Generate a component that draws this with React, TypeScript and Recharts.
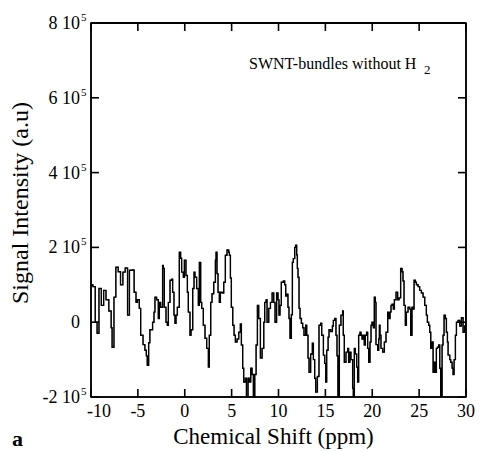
import { LineChart, Line, XAxis, YAxis, ReferenceArea } from 'recharts'

// chemical shift (ppm) and signal
const SHIFT_PPM = [
  -10.0, -9.8, -9.55, -9.35, -9.15, -8.9, -8.65, -8.4, -8.1, -7.85, -7.75, -7.55, -7.35, -7.1, -6.85, -6.6,
  -6.35, -6.1, -5.9, -5.6, -5.4, -5.2, -5.05, -4.85, -4.7, -4.45, -4.25, -4.1, -4.0, -3.85, -3.72, -3.43,
  -3.28, -3.18, -3.0, -2.82, -2.71, -2.57, -2.36, -2.29, -2.18, -2.0, -1.86, -1.75, -1.57, -1.4, -1.29, -1.15,
  -1.04, -0.93, -0.79, -0.58, -0.44, -0.33, -0.15, -0.04, 0.13, 0.28, 0.38, 0.56, 0.67, 0.85, 0.99, 1.09,
  1.27, 1.45, 1.56, 1.7, 1.81, 1.98, 2.16, 2.34, 2.52, 2.62, 2.77, 2.91, 3.09, 3.27, 3.34, 3.44,
  3.55, 3.69, 3.8, 3.98, 4.16, 4.33, 4.51, 4.69, 4.76, 4.87, 4.97, 5.12, 5.26, 5.4, 5.58, 5.76,
  5.93, 6.04, 6.18, 6.29, 6.47, 6.58, 6.75, 6.9, 7.04, 7.18, 7.32, 7.47, 7.61, 7.75, 7.89, 8.07,
  8.25, 8.43, 8.53, 8.68, 8.78, 8.96, 9.14, 9.32, 9.49, 9.63, 9.8, 9.95, 10.05, 10.16, 10.3, 10.52,
  10.66, 10.77, 10.87, 11.01, 11.12, 11.23, 11.37, 11.48, 11.58, 11.73, 11.83, 11.94, 12.01, 12.08, 12.19, 12.3,
  12.44, 12.58, 12.72, 12.9, 13.01, 13.15, 13.26, 13.43, 13.61, 13.72, 13.86, 13.97, 14.15, 14.32, 14.5, 14.61,
  14.79, 14.93, 15.04, 15.14, 15.29, 15.39, 15.57, 15.75, 15.85, 16.0, 16.13, 16.24, 16.34, 16.49, 16.66, 16.84,
  16.91, 17.02, 17.2, 17.38, 17.48, 17.62, 17.73, 17.91, 17.98, 18.09, 18.19, 18.34, 18.44, 18.55, 18.69, 18.8,
  18.91, 19.05, 19.15, 19.26, 19.4, 19.51, 19.62, 19.76, 19.87, 19.97, 20.12, 20.22, 20.33, 20.4, 20.58, 20.69,
  20.76, 20.83, 20.93, 21.11, 21.29, 21.47, 21.65, 21.75, 21.9, 22.0, 22.11, 22.25, 22.36, 22.54, 22.71, 22.86,
  23.03, 23.18, 23.28, 23.39, 23.53, 23.64, 23.82, 24.0, 24.1, 24.24, 24.35, 24.46, 24.6, 24.71, 24.89, 25.06,
  25.24, 25.42, 25.6, 25.77, 25.88, 26.02, 26.13, 26.24, 26.38, 26.49, 26.59, 26.74, 26.84, 26.95, 27.09, 27.2,
  27.3, 27.45, 27.55, 27.66, 27.8, 27.91, 28.02, 28.09, 28.27, 28.37, 28.52, 28.62, 28.73, 28.87, 28.98, 29.15,
  29.33, 29.51, 29.69, 29.87, 29.97, 30.0,
]

const SIGNAL = [
  100000, 95000, 0, -30000, 90000, 45000, 85000, 60000, 30000, -15000, -67000, 67000, 147000, 135000, 100000, 134000,
  145000, 19000, 139000, 140000, 80000, 53000, 60000, 37000, -35000, -60000, -75000, -90000, -115000, -55000, -20000, 0,
  27000, 67000, 60000, 10000, 53000, 40000, 152000, 144000, 40000, 0, -8000, 53000, 112000, 115000, 80000, 19000,
  -3000, 19000, 40000, 187000, 171000, 134000, 120000, 166000, 125000, 80000, 27000, -35000, -20000, 90000, 134000, 120000,
  90000, 45000, 160000, 53000, 37000, -8000, -43000, -70000, -120000, -35000, 53000, 76000, 107000, 166000, 187000, 130000,
  80000, 53000, 80000, 78000, 107000, 179000, 193000, 187000, 179000, 118000, 40000, -8000, -35000, -53000, -45000, -27000,
  -5000, -61000, -123000, -160000, -150000, -220000, -150000, -160000, -123000, -140000, -220000, -140000, -61000, 45000, 10000, -96000,
  -70000, 0, 53000, 60000, 0, 37000, 53000, 78000, 53000, 0, 78000, 60000, 19000, 45000, 107000, 110000,
  100000, 70000, 75000, 40000, 10000, -43000, 20000, 160000, 170000, 200000, 206000, 180000, 144000, 120000, 37000, 10000,
  -3000, -15000, -35000, -8000, -35000, -96000, -134000, -85000, -56000, -100000, -150000, -187000, -145000, -8000, -3000, -35000,
  -88000, -110000, -160000, -75000, -40000, -20000, -25000, -10000, 5000, 10000, -35000, -90000, -220000, -8000, 19000, 30000,
  -35000, -107000, -80000, -70000, -107000, -80000, -100000, -177000, -220000, -70000, -85000, -120000, -160000, -35000, -27000, -35000,
  -45000, -35000, -61000, -35000, -27000, -70000, -107000, -53000, -8000, 0, -15000, 67000, 53000, -60000, -75000, -45000,
  -8000, -35000, -70000, -80000, -53000, -27000, 27000, 10000, 27000, 45000, 48000, 35000, 60000, 80000, 60000, 65000,
  144000, 135000, 110000, 45000, -8000, 27000, 40000, 35000, -35000, 40000, 35000, 112000, 107000, 100000, 95000, 85000,
  78000, 67000, 45000, 19000, 0, -8000, -27000, -70000, -53000, -134000, -107000, -134000, -70000, -67000, -61000, -123000,
  -220000, -61000, -35000, 19000, 10000, -27000, -53000, -88000, -100000, -107000, -123000, -140000, -100000, -35000, 0, 5000,
  -10000, 12000, -27000, -10000, 53000, 53000,
]

const X_TICKS = [-10, -5, 0, 5, 10, 15, 20, 25, 30]
const Y_TICKS = [-200000, 0, 200000, 400000, 600000, 800000]
const X_RANGE = [-10, 30]
const Y_RANGE = [-200000, 800000]

const data = SHIFT_PPM.map((shift, i) => ({ shift, signal: SIGNAL[i] }))

const FONT = '"Liberation Serif", "Times New Roman", serif'
const INK = '#000'
const TICK = 8

// inward tick mark, drawn from the axis position
function Mark({ x, y, dx, dy }: any) {
  return <path d={`M${x},${y}l${dx},${dy}`} stroke={INK} strokeWidth={1.6} fill="none" />
}

function BottomTick({ x, y, payload, index }: any) {
  // first label sits a bit right of the corner, as in the original
  const shift = index === 0 ? 8 : 0
  return (
    <g>
      <path d={`M${x},${y}v${-TICK}`} stroke={INK} strokeWidth={1.6} fill="none" />
      <text x={x + shift} y={y + 20} textAnchor="middle" fontSize={18} fontFamily={FONT} fill={INK}>
        {payload.value}
      </text>
    </g>
  )
}

function LeftTick({ x, y, payload }: any) {
  const v = payload.value as number
  return (
    <g>
      <path d={`M${x},${y}h${TICK}`} stroke={INK} strokeWidth={1.6} fill="none" />
      <text x={x - 11} y={y + 6} textAnchor="end" fontSize={18} fontFamily={FONT} fill={INK}>
        {v === 0 ? '0' : `${v / 100000} 10`}
      </text>
      {v !== 0 && (
        <text x={x - 10} y={y - 2} fontSize={11} fontFamily={FONT} fill={INK}>5</text>
      )}
    </g>
  )
}

// axis titles and the panel letter, placed from the axis view boxes
function XTitle({ viewBox }: any) {
  const { x, y, width } = viewBox
  return (
    <g>
      <text x={x + width / 2 - 5} y={y + 47} textAnchor="middle" fontSize={23} fontFamily={FONT} fill={INK}>
        Chemical Shift (ppm)
      </text>
      <text x={x - 79} y={y + 49} fontSize={22} fontWeight="bold" fontFamily={FONT} fill={INK}>a</text>
    </g>
  )
}

function YTitle({ viewBox }: any) {
  const { x, y, height } = viewBox
  const cx = x + 28
  const cy = y + height / 2 - 7
  return (
    <text x={cx} y={cy} textAnchor="middle" fontSize={24} fontFamily={FONT} fill={INK} transform={`rotate(-90 ${cx} ${cy})`}>
      Signal Intensity (a.u)
    </text>
  )
}

function Note({ viewBox }: any) {
  const { x, y } = viewBox
  return (
    <g>
      <text x={x + 158} y={y + 56} fontSize={16} fontFamily={FONT} fill={INK}>SWNT-bundles without H</text>
      <text x={x + 333} y={y + 61} fontSize={13} fontFamily={FONT} fill={INK}>2</text>
    </g>
  )
}

export default function App() {
  return (
    <div style={{ position: 'absolute', left: 0, top: 0, width: 481, height: 452, background: '#fff' }}>
      <LineChart width={481} height={452} data={data} margin={{ top: 13, right: 5, bottom: 0, left: 0 }}>
        <XAxis
          dataKey="shift" type="number" domain={X_RANGE} ticks={X_TICKS} allowDataOverflow interval={0}
          height={55} tickSize={0} tickMargin={0} axisLine={{ stroke: INK, strokeWidth: 1.5 }}
          tick={<BottomTick />} label={<XTitle />}
        />
        <XAxis
          xAxisId="top" orientation="top" dataKey="shift" type="number" domain={X_RANGE} ticks={X_TICKS}
          allowDataOverflow interval={0} height={10} tickSize={0} tickMargin={0}
          axisLine={{ stroke: INK, strokeWidth: 2 }} tick={<Mark dx={0} dy={TICK} />} label={<Note />}
        />
        <YAxis
          type="number" domain={Y_RANGE} ticks={Y_TICKS} allowDataOverflow interval={0} width={91}
          tickSize={0} tickMargin={0} axisLine={{ stroke: INK, strokeWidth: 1.5 }} tick={<LeftTick />}
          label={<YTitle />}
        />
        <YAxis
          yAxisId="right" orientation="right" type="number" domain={Y_RANGE} ticks={Y_TICKS}
          allowDataOverflow interval={0} width={10} tickSize={0} tickMargin={0}
          axisLine={{ stroke: INK, strokeWidth: 1.5 }} tick={<Mark dx={-TICK} dy={0} />}
        />
        {/* plot frame from the scales, so the box is closed even at the top */}
        <ReferenceArea
          x1={X_RANGE[0]} x2={X_RANGE[1]} y1={Y_RANGE[0]} y2={Y_RANGE[1]}
          fill="none" fillOpacity={0} stroke={INK} strokeWidth={1.5} ifOverflow="visible"
        />
        {/* the spectrum is drawn against the top/right frame axes too; both copies coincide */}
        <Line
          type="stepAfter" dataKey="signal" stroke={INK} strokeWidth={1.4}
          dot={false} isAnimationActive={false}
        />
        <Line
          xAxisId="top" yAxisId="right" type="stepAfter" dataKey="signal" stroke={INK} strokeWidth={0.6}
          dot={false} activeDot={false} isAnimationActive={false}
        />
      </LineChart>
    </div>
  )
}
